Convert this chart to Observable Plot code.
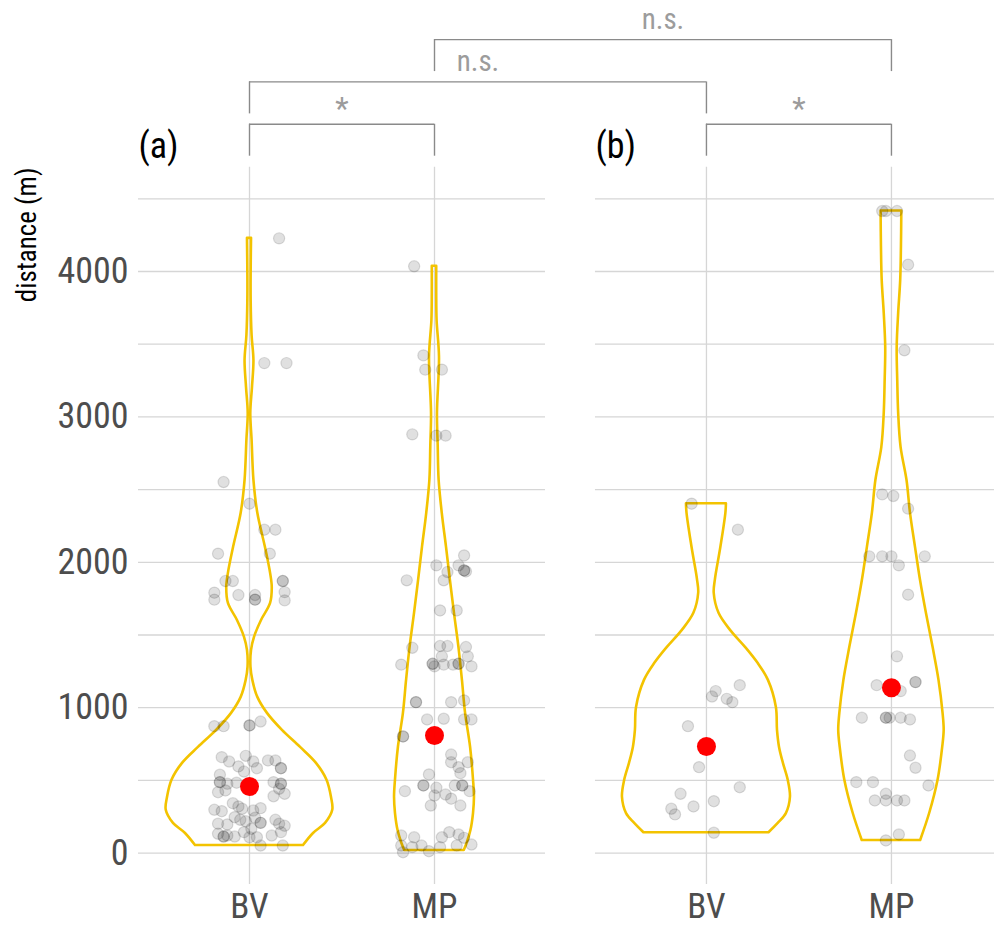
<!DOCTYPE html>
<html><head><meta charset="utf-8">
<script src="https://cdn.jsdelivr.net/npm/d3@7"></script>
<script src="https://cdn.jsdelivr.net/npm/@observablehq/plot@0.6"></script>
<style>
body{margin:0;background:#fff;overflow:hidden}
#chart{width:994px;height:927px;overflow:hidden}
</style>
</head><body><div id="chart"></div>
<script>
// ---------------- data ----------------
const panels = ["(a)", "(b)"];
const groups = ["BV", "MP"];
const yTicks = [0, 1000, 2000, 3000, 4000];
const gridValues = [0, 500, 1000, 1500, 2000, 2500, 3000, 3500, 4000, 4500];

// jittered observations: [jitter (category units), distance (m)]
const ptsA_BV = [
[0.16,4228],[0.08,3370],[0.20,3370],[-0.14,2552],[0.00,2403],[0.08,2224],[0.14,2224],[-0.17,2059],[0.11,2059],
[-0.13,1871],[-0.09,1871],[0.18,1871],[0.18,1871],[-0.19,1791],[-0.19,1743],[-0.06,1775],[0.03,1775],[0.03,1743],[0.03,1743],
[0.19,1795],[0.19,1738],
[-0.19,873],[-0.14,873],[0.00,878],[0.00,878],[0.06,905],[-0.15,660],[-0.11,630],[-0.02,669],[0.02,630],[-0.06,596],
[-0.03,561],[0.04,584],[0.10,637],[0.14,637],[0.17,584],[0.17,584],[-0.16,539],[-0.16,488],[-0.16,488],[-0.12,477],
[-0.07,484],[0.13,488],[0.17,477],[0.17,477],[-0.17,419],[-0.13,431],[0.16,442],[0.19,408],[0.13,391],[-0.09,343],
[-0.06,321],[-0.04,305],[0.02,293],[0.06,309],[-0.19,298],[-0.15,288],[-0.17,202],[-0.12,197],[-0.08,247],[-0.05,229],
[-0.02,219],[0.03,243],[0.06,208],[0.06,208],[0.14,229],[0.16,202],[0.19,188],[-0.17,133],[-0.14,114],[-0.14,114],
[-0.12,121],[-0.08,114],[-0.03,144],[0.00,109],[0.04,109],[0.06,52],[0.12,121],[0.17,144],[0.18,52],[0.01,167]
];
const ptsA_MP = [
[-0.11,4036],[-0.06,3423],[-0.05,3325],[0.04,3325],[-0.12,2880],[0.01,2871],[0.06,2871],[0.16,2047],[0.01,1979],
[0.13,1979],[0.16,1944],[0.16,1944],[0.17,1937],[0.07,1933],[-0.15,1876],[0.05,1876],[0.03,1669],[0.12,1669],
[-0.12,1412],[0.03,1424],[0.07,1424],[0.17,1417],[0.04,1353],[0.18,1353],[-0.18,1296],[-0.01,1302],[-0.01,1302],
[0.00,1284],[0.05,1296],[0.10,1296],[0.13,1302],[0.13,1302],[0.20,1284],[-0.10,1038],[-0.10,1038],[0.09,1038],
[0.16,1050],[-0.04,919],[0.05,924],[0.16,919],[0.20,919],[-0.17,802],[-0.17,802],[0.09,678],[0.09,625],[0.13,591],
[0.18,625],[0.14,550],[-0.03,541],[-0.06,465],[-0.06,465],[0.01,449],[0.11,465],[0.15,465],[0.15,465],[0.19,426],
[-0.16,426],[0.00,396],[0.06,403],[0.09,374],[0.14,327],[-0.02,327],[-0.18,121],[-0.11,109],[0.08,144],[0.13,128],
[0.04,109],[0.16,105],[-0.18,52],[-0.12,41],[-0.07,52],[-0.03,13],[0.03,41],[0.12,52],[0.20,59],[-0.17,6]
];
const ptsB_BV = [
[-0.08,2403],[0.17,2224],[0.18,1155],[0.05,1114],[0.03,1077],[0.11,1061],[0.14,1038],[-0.10,873],[-0.04,591],
[0.18,453],[-0.14,408],[0.04,357],[-0.07,321],[-0.19,305],[-0.17,266],[0.04,140]
];
const ptsB_MP = [
[-0.05,4416],[-0.03,4416],[0.03,4416],[0.09,4047],[0.07,3458],[-0.05,2467],[0.01,2456],[0.09,2369],[-0.12,2041],
[-0.05,2041],[0.00,2041],[0.18,2041],[0.04,1979],[0.09,1777],[0.03,1353],[-0.08,1155],[0.13,1176],[0.13,1176],
[0.05,1114],[-0.16,931],[-0.03,931],[-0.03,931],[-0.01,931],[0.05,931],[0.10,919],[0.10,671],[0.13,587],[-0.19,488],
[-0.10,488],[0.20,465],[-0.03,408],[-0.09,362],[-0.03,362],[0.03,362],[0.07,362],[0.04,128],[-0.03,87]
];

// violin outlines: [distance (m), half-width (category units)]
const vioA_BV = [
[52,0.292],[135,0.346],[204,0.411],[294,0.450],[384,0.443],[501,0.419],[617,0.362],[727,0.276],[844,0.178],
[961,0.097],[1071,0.045],[1188,0.018],[1277,0.008],[1394,0.011],[1484,0.027],[1600,0.065],[1717,0.114],[1827,0.123],
[1924,0.114],[2103,0.086],[2337,0.045],[2564,0.024],[2840,0.014],[3024,0.007],[3200,0.016],[3388,0.024],[3560,0.014],
[3800,0.009],[4000,0.009],[4228,0.011]
];
const vioA_MP = [
[18,0.161],[73,0.178],[155,0.197],[274,0.211],[384,0.216],[501,0.211],[728,0.195],[961,0.168],[1188,0.151],
[1415,0.132],[1649,0.108],[1876,0.086],[2103,0.065],[2337,0.042],[2564,0.025],[2800,0.020],[3024,0.016],[3410,0.027],
[3663,0.014],[3850,0.012],[4036,0.012]
];
const vioB_BV = [
[140,0.338],[204,0.388],[272,0.432],[384,0.454],[501,0.442],[617,0.416],[727,0.395],[844,0.384],[1002,0.378],
[1188,0.335],[1305,0.279],[1415,0.211],[1532,0.130],[1649,0.068],[1787,0.042],[1876,0.048],[2103,0.078],[2337,0.105],
[2403,0.108]
];
const vioB_MP = [
[87,0.158],[274,0.207],[501,0.252],[727,0.277],[844,0.285],[961,0.279],[1188,0.257],[1415,0.225],[1649,0.189],
[1876,0.157],[2103,0.130],[2337,0.103],[2564,0.084],[2791,0.052],[3024,0.039],[3251,0.034],[3478,0.031],[3712,0.039],
[3939,0.050],[4168,0.054],[4416,0.056]
];

const means = [458, 809, 733, 1137]; // (a)BV, (a)MP, (b)BV, (b)MP

// significance comparisons (indices into the 4 panel/group cells)
const cmpFrom = [0, 2, 0, 1];
const cmpTo = [1, 3, 2, 3];
const cmpTier = [0, 0, 1, 2];
const cmpLabel = ["*", "*", "n.s.", "n.s."];

// ---------------- layout ----------------
const panelStep = 2.47;          // x distance between panels (category units)
const bracketBase = 5013, tierStep = 291, legLen = 220;
const FONT = "'Liberation Sans Narrow','Roboto Condensed','DejaVu Sans Condensed',sans-serif";
const GOLD = "#F3C300";

const cells = [];
panels.forEach((p, pi) => groups.forEach((g, gi) => cells.push({panel: p, group: g, pi, gi, pos: pi * panelStep + gi})));
const ptsAll = [ptsA_BV, ptsA_MP, ptsB_BV, ptsB_MP];
const vioAll = [vioA_BV, vioA_MP, vioB_BV, vioB_MP];

const points = [];
ptsAll.forEach((arr, ci) => arr.forEach(([j, v]) => points.push({x: cells[ci].pos + j, v})));
const violins = [];
vioAll.forEach((arr, ci) => arr.slice().sort((a, b) => a[0] - b[0]).forEach(([v, hw]) =>
  violins.push({key: ci, v, x1: cells[ci].pos - hw, x2: cells[ci].pos + hw})));
const meanRows = means.map((m, i) => ({x: cells[i].pos, v: m}));

const xMax = -0.6 + (994 - 138) / 185;
const hGrid = [];
panels.forEach((p, pi) => gridValues.forEach(v => hGrid.push({v, x1: pi * panelStep - 0.6, x2: Math.min(pi * panelStep + 1.6, xMax)})));

const brackets = cmpFrom.map((f, i) => ({
  x1: cells[f].pos, x2: cells[cmpTo[i]].pos,
  level: bracketBase + cmpTier[i] * tierStep, label: cmpLabel[i]
}));
const legs = brackets.flatMap(b => [{x: b.x1, level: b.level}, {x: b.x2, level: b.level}]);

const chart = Plot.plot({
  width: 994, height: 927,
  marginLeft: 138, marginRight: 0, marginTop: 0, marginBottom: 43,
  style: {fontFamily: FONT, background: "white", overflow: "hidden"},
  x: {domain: [-0.6, xMax], axis: null},
  y: {domain: [0, 4000], range: [852.6, 271], axis: null},
  marks: [
    Plot.ruleY(hGrid, {y: "v", x1: "x1", x2: "x2", stroke: "#d6d6d6", strokeWidth: 1.3}),
    Plot.ruleX(cells, {x: "pos", y1: -216, y2: 4717, stroke: "#d6d6d6", strokeWidth: 1.3}),
    Plot.axisY({ticks: yTicks, tickFormat: d => String(d), tickSize: 0, tickPadding: 10, fontSize: 36, fill: "#4d4d4d", label: null}),
    Plot.axisX({ticks: cells.map(c => c.pos), tickFormat: d => cells.find(c => Math.abs(c.pos - d) < 1e-9).group,
      tickSize: 0, tickPadding: 9, fontSize: 35, fill: "#4d4d4d", label: null}),
    Plot.areaX(violins, {y: "v", x1: "x1", x2: "x2", z: "key", fill: "none", stroke: GOLD, strokeWidth: 2.6, curve: "catmull-rom"}),
    Plot.dot(points, {x: "x", y: "v", r: 5.6, fill: "black", fillOpacity: 0.12, stroke: "black", strokeOpacity: 0.13, strokeWidth: 1.2}),
    Plot.dot(meanRows, {x: "x", y: "v", r: 9.5, fill: "#ff0000", stroke: "none"}),
    Plot.ruleY(brackets, {y: "level", x1: "x1", x2: "x2", stroke: "#8a8a8a", strokeWidth: 1.4}),
    Plot.ruleX(legs, {x: "x", y1: d => d.level - legLen, y2: "level", stroke: "#8a8a8a", strokeWidth: 1.4}),
    Plot.text(brackets.filter(b => b.label !== "*"), {x: d => (d.x1 + d.x2) / 2, y: "level", text: "label", dy: -20, fontSize: 29, fill: "#9c9c9c"}),
    Plot.text(brackets.filter(b => b.label === "*"), {x: d => (d.x1 + d.x2) / 2, y: "level", text: "label", dy: -15, fontSize: 31, fill: "#9c9c9c"}),
    Plot.text(panels, {x: (d, i) => i * panelStep - 0.6, frameAnchor: "top", dy: 132, text: d => d, textAnchor: "start", fontSize: 36, fill: "black"}),
    Plot.text(["distance (m)"], {frameAnchor: "top-left", dx: -111, dy: 167, rotate: -90, textAnchor: "end", lineAnchor: "middle", fontSize: 27, fill: "black"})
  ]
});
document.getElementById("chart").appendChild(chart);
</script></body></html>
